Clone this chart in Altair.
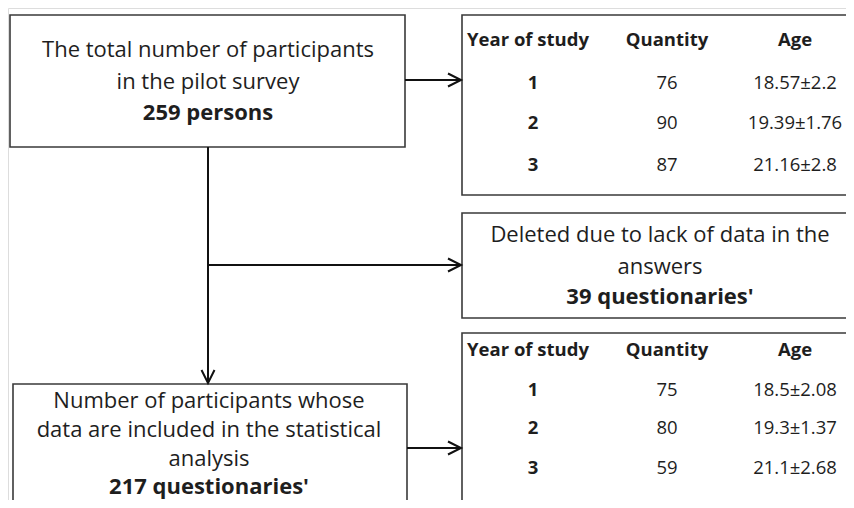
import altair as alt
import pandas as pd

# ---------------- data ----------------
box1_lines = ["The total number of participants", "in the pilot survey"]
box1_bold = "259 persons"
deleted_lines = ["Deleted due to lack of data in the", "answers"]
deleted_bold = "39 questionaries'"
box2_lines = ["Number of participants whose", "data are included in the statistical", "analysis"]
box2_bold = "217 questionaries'"

headers = ["Year of study", "Quantity", "Age"]
years = ["1", "2", "3"]
qty_pilot = ["76", "90", "87"]
age_pilot = ["18.57\u00b12.2", "19.39\u00b11.76", "21.16\u00b12.8"]
qty_final = ["75", "80", "59"]
age_final = ["18.5\u00b12.08", "19.3\u00b11.37", "21.1\u00b12.68"]

# ---------------- layout (reference pixel coordinates) ----------------
W, H = 838, 492
FONT = "Open Sans"
TXT = "#1e1e1e"
BOX_STROKE = "#3a3a3a"
LINE = "#111111"

boxes = pd.DataFrame([
    dict(x=10, x2=405, y=15, y2=147),     # total participants
    dict(x=462, x2=880, y=15, y2=195),    # table 1
    dict(x=462, x2=880, y=213, y2=318),   # deleted
    dict(x=462, x2=880, y=333, y2=540),   # table 2
    dict(x=13, x2=407, y=384, y2=540),    # included
])

segments = pd.DataFrame([
    dict(x=208, x2=208, y=147, y2=382),
    dict(x=208, x2=460, y=265, y2=265),
    dict(x=405, x2=460, y=80, y2=80),
    dict(x=407, x2=460, y=448, y2=448),
])

heads_right = pd.DataFrame([dict(x=461, y=265), dict(x=461, y=80), dict(x=461, y=448)])
heads_down = pd.DataFrame([dict(x=208, y=383)])

box_cx = 208
del_cx = 660
col_x = [528, 667, 795]
year_x = 533

normal_rows, bold_rows, small_rows, small_bold_rows = [], [], [], []
for t, yy in zip(box1_lines, [50, 82]):
    normal_rows.append(dict(x=box_cx, y=yy, t=t))
bold_rows.append(dict(x=box_cx, y=113, t=box1_bold))
for t, yy in zip(deleted_lines, [235, 267]):
    normal_rows.append(dict(x=del_cx, y=yy, t=t))
bold_rows.append(dict(x=del_cx, y=297, t=deleted_bold))
for t, yy in zip(box2_lines, [401, 430, 459]):
    normal_rows.append(dict(x=box_cx + 1, y=yy, t=t))
bold_rows.append(dict(x=box_cx + 1, y=487, t=box2_bold))

for head_y, row_ys, qty, age in [(40, [83, 123, 165], qty_pilot, age_pilot),
                                  (350, [390, 428, 468], qty_final, age_final)]:
    for h, cx in zip(headers, col_x):
        small_bold_rows.append(dict(x=cx, y=head_y, t=h))
    for yv, q, a, ry in zip(years, qty, age, row_ys):
        small_bold_rows.append(dict(x=year_x, y=ry, t=yv))
        small_rows.append(dict(x=col_x[1], y=ry, t=q))
        small_rows.append(dict(x=col_x[2], y=ry, t=a))

xs = alt.Scale(domain=[8, 8 + W])
ys = alt.Scale(domain=[8, 8 + H], reverse=True)
X = lambda f="x": alt.X(f"{f}:Q", scale=xs, axis=None)
Y = lambda f="y": alt.Y(f"{f}:Q", scale=ys, axis=None)

rects = alt.Chart(boxes).mark_rect(fill="white", stroke=BOX_STROKE, strokeWidth=1.6).encode(
    x=X(), x2="x2:Q", y=Y(), y2="y2:Q")

rules = alt.Chart(segments).mark_rule(color=LINE, strokeWidth=2).encode(
    x=X(), x2="x2:Q", y=Y(), y2="y2:Q")

chevron = "M-2,-1L0,0L-2,1"
hr = alt.Chart(heads_right).mark_point(shape=chevron, filled=False, stroke=LINE, strokeWidth=2,
                                       size=169, opacity=1).encode(x=X(), y=Y())
hd = alt.Chart(heads_down).mark_point(shape=chevron, filled=False, stroke=LINE, strokeWidth=2,
                                      size=169, angle=90, opacity=1).encode(x=X(), y=Y())

def text_layer(rows, size, weight):
    return alt.Chart(pd.DataFrame(rows)).mark_text(
        font=FONT, fontSize=size, fontWeight=weight, color=TXT, align="center", baseline="middle"
    ).encode(x=X(), y=Y(), text="t:N")

chart = alt.layer(
    rects, rules, hr, hd,
    text_layer(normal_rows, 22, "normal"),
    text_layer(bold_rows, 22, "bold"),
    text_layer(small_rows, 18.5, "normal"),
    text_layer(small_bold_rows, 18.5, "bold"),
).properties(
    width=W, height=H, autosize=alt.AutoSizeParams(type="none"), padding=0
).configure_view(stroke=None).configure(background="white")

chart.save("out.html", embed_options={"renderer": "svg", "actions": False})
